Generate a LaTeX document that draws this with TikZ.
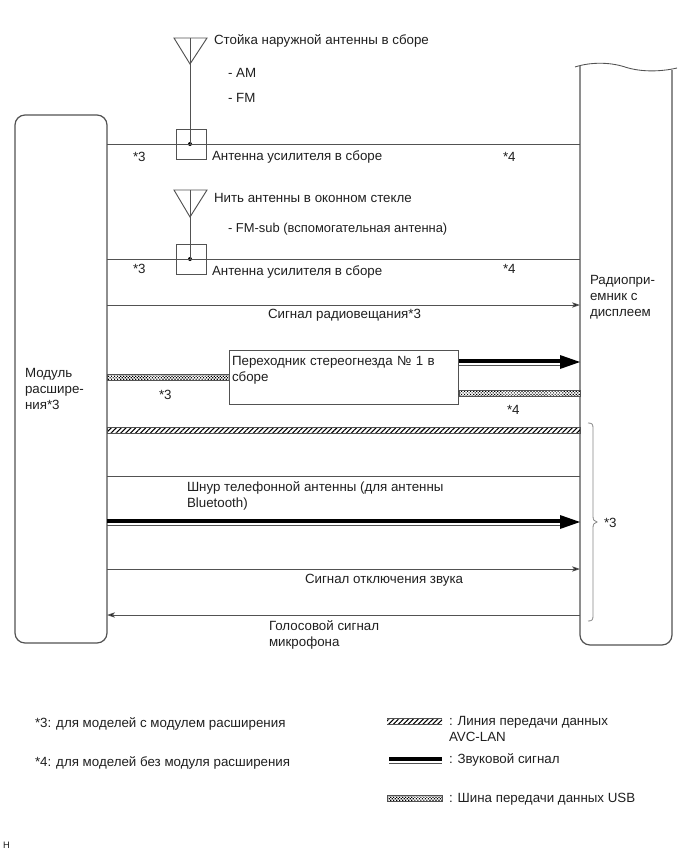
\documentclass[tikz,border=0pt]{standalone}
\usepackage{fontspec}
\setmainfont{Liberation Sans}
\usetikzlibrary{arrows.meta,patterns.meta,patterns}
\definecolor{ln}{gray}{0.32}
\tikzset{
 x=0.75pt,y=-0.75pt,
 lab/.style={inner sep=0pt,outer sep=0pt,anchor=west,align=left,yshift=-0.75pt,text=black!88,font=\fontsize{10pt}{12pt}\selectfont},
 wire/.style={draw=ln,line width=0.65pt},
 sigarrow/.style={wire,-{Stealth[length=6pt,width=4pt,inset=1.5pt,fill=black]}},
 block/.style={draw=none,inner sep=0pt,outer sep=0pt,anchor=north west},
 avcbus/.style={draw=ln,line width=0.5pt,pattern={Lines[angle=45,distance=2.6pt,line width=0.8pt]}},
 usbbus/.style={draw=ln,line width=0.5pt,preaction={fill=white},pattern={Dots[angle=45,distance=1.6pt,radius=0.62pt]}},
 audio/.style={draw=black,line width=3pt},
 audiolow/.style={draw=ln,line width=0.7pt},
 bighead/.style={fill=black,draw=none},
 antbox/.style={draw=ln,line width=0.6pt,minimum width=22.5pt,minimum height=22.5pt,inner sep=0pt},
 antline/.style={draw=ln,line width=0.7pt},
}
\begin{document}
\begin{tikzpicture}
\useasboundingbox (0,0) rectangle (689,853);
% main blocks
\draw[wire,line width=0.9pt,rounded corners=7.5pt] (15,115) rectangle (107,643);
\node[block,minimum width=69pt,minimum height=396pt] (mod) at (15,115) {};
\node[block,minimum width=69pt,minimum height=433pt] (radio) at (580,68) {};
\draw[wire,line width=0.9pt,rounded corners=7.5pt] (580,66) -- (580,645) -- (672,645) -- (672,70);
\draw[wire] (575,67) .. controls (590,62) and (610,62) .. (625,67) .. controls (640,72) and (660,72) .. (677,68);

% antenna 1
\node[antbox] (amp1) at (191,144) {};
\coordinate (ant1top) at (190,38);
\coordinate (ant1tip) at (190,64);
\draw[antline] (174,38) -- (207,38) -- (ant1tip) -- cycle;
\fill[black] (190,144) circle (1.5pt);
\draw[antline] (ant1top) -- (190,144);
\draw[wire] (mod.east |- amp1) -- (radio.west |- amp1);

% antenna 2
\node[antbox] (amp2) at (191,259) {};
\coordinate (ant2top) at (190,190);
\coordinate (ant2tip) at (190,217);
\draw[antline] (174,190) -- (207,190) -- (ant2tip) -- cycle;
\fill[black] (190,259) circle (1.5pt);
\draw[antline] (ant2top) -- (190,259);
\draw[wire] (mod.east |- amp2) -- (radio.west |- amp2);

% broadcast
\coordinate (y305) at (300,305);
\draw[sigarrow] (mod.east |- y305) -- (radio.west |- y305);

% adapter
\node[draw=ln,line width=0.7pt,fill=white,inner sep=0pt,minimum width=171.75pt,minimum height=40.5pt,anchor=north west] (adapter) at (229,350) {};
\node[lab,text width=170pt] at (232,369.5) {Переходник стереогнезда № 1 в\\сборе};
\coordinate (y362) at (400,362);
\path[usbbus] (mod.east |- 0,374) rectangle (adapter.west |- 0,380);
\path[usbbus] (adapter.east |- 0,390) rectangle (radio.west |- 0,396);
\draw[audio] (adapter.east |- 0,361) -- (562,361);
\draw[audiolow] (adapter.east |- 0,365.5) -- (562,365.5);
\fill[bighead] (radio.west |- y362) -- (560,355) -- (560,369) -- cycle;

% AVC
\path[avcbus] (mod.east |- 0,427) rectangle (radio.west |- 0,433);

% phone antenna
\coordinate (y476) at (300,476);
\draw[wire] (mod.east |- y476) -- (radio.west |- y476);
\draw[audio] (mod.east |- 0,521) -- (562,521);
\draw[audiolow] (mod.east |- 0,525) -- (562,525);
\fill[bighead] (radio.west |- 0,522) -- (560,515) -- (560,529) -- cycle;

% mute, mic
\coordinate (y569) at (300,569);
\coordinate (y615) at (300,615);
\draw[sigarrow] (mod.east |- y569) -- (radio.west |- y569);
\draw[sigarrow] (radio.west |- y615) -- (mod.east |- y615);

% brace
\draw[draw=ln!70,line width=0.6pt] (588,423) .. controls (592,423) and (593,424) .. (593,428) -- (593,516) .. controls (593,520) and (594,521) .. (597,522) .. controls (594,523) and (593,524) .. (593,528) -- (593,616) .. controls (593,620) and (592,621) .. (588,621);

% texts
\node[lab] at (214,40) {Стойка наружной антенны в сборе};
\node[lab] at (228,72) {- AM};
\node[lab] at (228,97) {- FM};
\node[lab] at (133,156) {*3};
\node[lab] at (212,156) {Антенна усилителя в сборе};
\node[lab] at (503,156) {*4};
\node[lab] at (214,197) {Нить антенны в оконном стекле};
\node[lab,font=\fontsize{9.7pt}{12pt}\selectfont] at (228,228) {- FM-sub (вспомогательная антенна)};
\node[lab] at (133,268) {*3};
\node[lab] at (212,271) {Антенна усилителя в сборе};
\node[lab] at (503,268) {*4};
\node[lab] at (268,314) {Сигнал радиовещания*3};
\node[lab] at (590,296) {Радиопри-\\емник с\\дисплеем};
\node[lab] at (25,388) {Модуль\\расшире-\\ния*3};
\node[lab] at (159,394) {*3};
\node[lab] at (507,409) {*4};
\node[lab] at (187,494.5) {Шнур телефонной антенны (для антенны\\Bluetooth)};
\node[lab] at (604,522) {*3};
\node[lab] at (305,579) {Сигнал отключения звука};
\node[lab] at (269,633.5) {Голосовой сигнал\\микрофона};

% legend
\node[lab] at (35,723) {*3: для моделей с модулем расширения};
\node[lab] at (35,762) {*4: для моделей без модуля расширения};
\path[avcbus,draw=none] (387,718) rectangle (442,724);
\draw[audiolow,line width=0.4pt] (387,718) -- (442,718) (387,724) -- (442,724);
\node[lab] at (449,728) {: Линия передачи данных\\AVC-LAN};
\coordinate (leg2) at (389,759);
\draw[audio] (leg2) -- (442,759);
\draw[audiolow] (389,763) -- (442,763);
\node[lab] at (449,759) {: Звуковой сигнал};
\path[usbbus] (387,795) rectangle (442,801);
\node[lab] at (449,798) {: Шина передачи данных USB};
\node[lab,font=\fontsize{7pt}{8pt}\selectfont] at (3,844.5) {H};
\end{tikzpicture}
\end{document}
